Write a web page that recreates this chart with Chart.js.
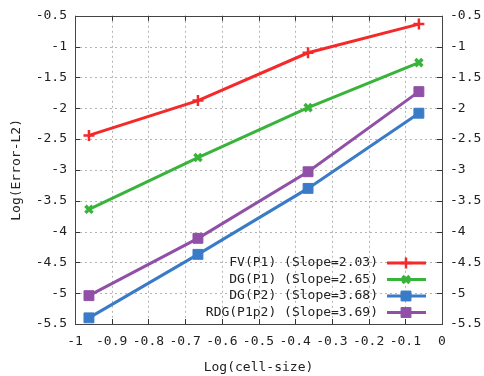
<!DOCTYPE html>
<html>
<head>
<meta charset="utf-8">
<script src="https://cdn.jsdelivr.net/npm/chart.js@4/dist/chart.umd.min.js"></script>
<style>
  html, body { margin: 0; padding: 0; background: #fff; }
  #wrap { width: 484px; height: 376px; }
</style>
</head>
<body>
<div id="wrap"><canvas id="c" width="484" height="376"></canvas></div>
<script>
const logCellSize = [-0.962, -0.665, -0.365, -0.063];
const seriesLabels = ["FV(P1) (Slope=2.03)", "DG(P1) (Slope=2.65)", "DG(P2) (Slope=3.68)", "RDG(P1p2) (Slope=3.69)"];
const fvP1 = [-2.44, -1.875, -1.10, -0.635];
const dgP1 = [-3.64, -2.80, -1.99, -1.26];
const dgP2 = [-5.40, -4.37, -3.30, -2.08];
const rdgP1p2 = [-5.04, -4.11, -3.03, -1.73];
const xTickLabels = ["-1", "-0.9", "-0.8", "-0.7", "-0.6", "-0.5", "-0.4", "-0.3", "-0.2", "-0.1", "0"];
const yTickLabels = ["-5.5", "-5", "-4.5", "-4", "-3.5", "-3", "-2.5", "-2", "-1.5", "-1", "-0.5"];

const colors = ["#f42a2a", "#38b43a", "#3a7bc8", "#9150a8"];
const styles = [
  { pointStyle: "cross", r: 5.5, bw: 2.5 },
  { pointStyle: "crossRot", r: 5, bw: 3.5 },
  { pointStyle: "rect", r: 7, bw: 1 },
  { pointStyle: "rect", r: 7, bw: 1 }
];
const allSeries = [fvP1, dgP1, dgP2, rdgP1p2];

const FONT = "'DejaVu Sans Mono', 'Liberation Mono', monospace";

const datasets = allSeries.map((vals, i) => ({
  label: seriesLabels[i],
  data: vals.map((v, j) => ({ x: logCellSize[j], y: v })),
  borderColor: colors[i],
  backgroundColor: colors[i],
  borderWidth: 3,
  pointStyle: styles[i].pointStyle,
  pointRadius: styles[i].r,
  pointBorderWidth: styles[i].bw,
  pointBorderColor: colors[i],
  pointBackgroundColor: colors[i],
  tension: 0,
  fill: false,
  yAxisID: "y"
}));

const framePlugin = {
  id: "frame",
  beforeDatasetsDraw(chart) {
    // dotted grid
    const { ctx, chartArea: a, scales } = chart;
    ctx.save();
    ctx.strokeStyle = "#b4b4b4";
    ctx.lineWidth = 1;
    ctx.setLineDash([2, 3]);
    ctx.beginPath();
    scales.x.ticks.forEach(t => {
      const px = Math.round(scales.x.getPixelForValue(t.value)) + 0.5;
      ctx.moveTo(px, a.top); ctx.lineTo(px, a.bottom);
    });
    scales.y.ticks.forEach(t => {
      const py = Math.round(scales.y.getPixelForValue(t.value)) + 0.5;
      ctx.moveTo(a.left, py); ctx.lineTo(a.right, py);
    });
    ctx.stroke();
    ctx.restore();
  },
  afterDatasetsDraw(chart) {
    const { ctx, chartArea: a, scales } = chart;
    ctx.save();
    // inward ticks
    ctx.strokeStyle = "#333";
    ctx.lineWidth = 1;
    ctx.beginPath();
    scales.x.ticks.forEach(t => {
      const px = Math.round(scales.x.getPixelForValue(t.value)) + 0.5;
      ctx.moveTo(px, a.bottom); ctx.lineTo(px, a.bottom - 5);
      ctx.moveTo(px, a.top); ctx.lineTo(px, a.top + 5);
    });
    scales.y.ticks.forEach(t => {
      const py = Math.round(scales.y.getPixelForValue(t.value)) + 0.5;
      ctx.moveTo(a.left, py); ctx.lineTo(a.left + 5, py);
      ctx.moveTo(a.right, py); ctx.lineTo(a.right - 5, py);
    });
    ctx.stroke();
    // border
    ctx.strokeStyle = "#444";
    ctx.lineWidth = 1;
    ctx.strokeRect(Math.round(a.left) + 0.5, Math.round(a.top) + 0.5,
                   Math.round(a.right - a.left), Math.round(a.bottom - a.top));
    // legend
    const textRight = 378, lineL = 387, lineR = 426, mid = 406;
    const rowY = [263, 279.5, 296, 312.5];
    ctx.font = "13px " + FONT;
    ctx.textAlign = "right";
    ctx.textBaseline = "middle";
    chart.data.datasets.forEach((ds, i) => {
      const y = rowY[i];
      ctx.fillStyle = "#222";
      ctx.fillText(ds.label, textRight, y);
      ctx.strokeStyle = ds.borderColor;
      ctx.lineWidth = 3;
      ctx.beginPath();
      ctx.moveTo(lineL, y); ctx.lineTo(lineR, y);
      ctx.stroke();
      ctx.fillStyle = ds.borderColor;
      ctx.lineWidth = ds.pointBorderWidth;
      Chart.helpers.drawPoint(ctx, { pointStyle: ds.pointStyle, radius: ds.pointRadius, borderWidth: ds.pointBorderWidth, rotation: 0 }, mid, y);
    });
    ctx.restore();
  }
};

new Chart(document.getElementById("c"), {
  type: "line",
  data: { datasets },
  plugins: [framePlugin],
  options: {
    responsive: false,
    animation: false,
    devicePixelRatio: 1,
    layout: { padding: { top: 15, left: 0, right: 0, bottom: 0 } },
    plugins: { legend: { display: false }, tooltip: { enabled: false } },
    scales: {
      x: {
        type: "linear",
        min: -1, max: 0,
        ticks: {
          stepSize: 0.1,
          autoSkip: false,
          maxRotation: 0,
          padding: 10,
          color: "#222",
          font: { family: FONT, size: 13 },
          callback: (v, i) => xTickLabels[i]
        },
        grid: { display: false, drawTicks: false },
        border: { display: false },
        title: { display: true, text: "Log(cell-size)", color: "#222", font: { family: FONT, size: 13 }, padding: { top: 6, bottom: 1 } },
        afterFit(s) { s.height = 52; }
      },
      y: {
        type: "linear",
        position: "left",
        min: -5.5, max: -0.5,
        ticks: {
          stepSize: 0.5,
          autoSkip: false,
          padding: 8,
          color: "#222",
          font: { family: FONT, size: 13 },
          callback: (v, i) => yTickLabels[i]
        },
        grid: { display: false, drawTicks: false },
        border: { display: false },
        title: { display: true, text: "Log(Error-L2)", color: "#222", font: { family: FONT, size: 13 }, padding: { top: 9, bottom: 0 } },
        afterFit(s) { s.width = 75; }
      },
      y2: {
        type: "linear",
        position: "right",
        min: -5.5, max: -0.5,
        ticks: {
          stepSize: 0.5,
          autoSkip: false,
          padding: 8,
          color: "#222",
          font: { family: FONT, size: 13 },
          callback: (v, i) => yTickLabels[i]
        },
        grid: { display: false, drawTicks: false },
        border: { display: false },
        afterFit(s) { s.width = 42; }
      }
    }
  }
});
</script>
</body>
</html>
